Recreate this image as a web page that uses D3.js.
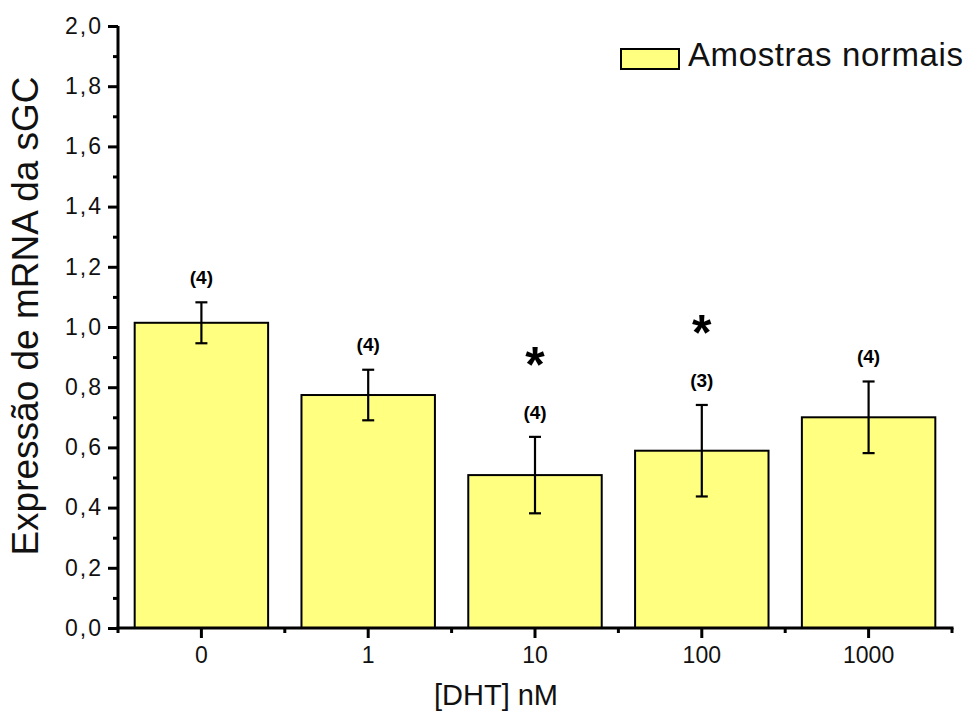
<!DOCTYPE html>
<html><head><meta charset="utf-8">
<script src="https://cdn.jsdelivr.net/npm/d3@7"></script>
<style>body{margin:0;background:#fff}svg{display:block}text{font-family:"Liberation Sans",Arial,sans-serif}</style>
</head><body><svg id="c" width="979" height="713"></svg>
<script>
const categories = ["0","1","10","100","1000"];
const means = [1.014, 0.774, 0.508, 0.589, 0.700];
const errors = [0.068, 0.084, 0.127, 0.152, 0.119];
const nLabels = ["(4)","(4)","(4)","(3)","(4)"];
const stars = ["", "", "*", "*", ""];
const yMajorTicks = [0,0.2,0.4,0.6,0.8,1.0,1.2,1.4,1.6,1.8,2.0];
const yMinorTicks = [0.1,0.3,0.5,0.7,0.9,1.1,1.3,1.5,1.7,1.9];
const seriesName = "Amostras normais";
const xTitle = "[DHT] nM";
const yTitle = "Expressão de mRNA da sGC";

const svg = d3.select("#c");
const pL = 118, pR = 952, pT = 26, pB = 628;
const x = d3.scaleBand().domain(categories).range([pL, pR]).paddingInner(0.2).paddingOuter(0.1);
const y = d3.scaleLinear().domain([0, 2]).range([pB, pT]);
const fill = "#ffff80";

// bars
svg.selectAll("rect.bar").data(categories).enter().append("rect")
  .attr("x", d => x(d)).attr("width", x.bandwidth())
  .attr("y", (d,i) => y(means[i])).attr("height", (d,i) => y(0) - y(means[i]))
  .attr("fill", fill).attr("stroke", "#000").attr("stroke-width", 2);

// error bars
const cx = d => x(d) + x.bandwidth()/2;
const eg = svg.append("g").attr("stroke", "#000").attr("stroke-width", 2.2);
categories.forEach((d,i) => {
  eg.append("line").attr("x1", cx(d)).attr("x2", cx(d)).attr("y1", y(means[i]+errors[i])).attr("y2", y(means[i]-errors[i]));
  [1,-1].forEach(s => eg.append("line").attr("x1", cx(d)-6).attr("x2", cx(d)+6)
    .attr("y1", y(means[i]+s*errors[i])).attr("y2", y(means[i]+s*errors[i])));
});

// n labels and stars
categories.forEach((d,i) => {
  const yt = y(means[i]+errors[i]);
  svg.append("text").attr("x", cx(d)).attr("y", yt - 25).attr("dy", "0.35em")
    .attr("text-anchor", "middle").attr("font-weight", "bold").attr("font-size", 19).text(nLabels[i]);
  if (stars[i]) svg.append("text").attr("x", cx(d)).attr("y", yt - 86).attr("dy", "0.62em")
    .attr("text-anchor", "middle").attr("font-weight", "bold").attr("font-size", 50).text(stars[i]);
});

// y axis
const yAxis = d3.axisLeft(y).tickValues(yMajorTicks).tickSize(10).tickPadding(5)
  .tickFormat(d => d3.format(".1f")(d).replace(".", ","));
const gy = svg.append("g").attr("transform", `translate(${pL},0)`).call(yAxis);
gy.select(".domain").attr("stroke-width", 3).attr("d", `M0,${pT}V${pB+1.5}`);
gy.selectAll(".tick line").attr("stroke-width", 3);
gy.selectAll(".tick text").attr("font-size", 23).attr("letter-spacing", 2).attr("fill", "#111");
const gym = svg.append("g").attr("transform", `translate(${pL},0)`)
  .call(d3.axisLeft(y).tickValues(yMinorTicks).tickSize(5).tickFormat(""));
gym.select(".domain").remove();
gym.selectAll(".tick line").attr("stroke-width", 3);

// x axis
const gx = svg.append("g").attr("transform", `translate(0,${pB})`)
  .call(d3.axisBottom(x).tickSize(10).tickPadding(9));
gx.select(".domain").attr("stroke-width", 3).attr("d", `M${pL-1.5},0H${pR+1.5}`);
gx.selectAll(".tick line").attr("stroke-width", 3);
gx.selectAll(".tick text").attr("font-size", 23).attr("fill", "#111");
const bounds = [x.range()[0]].concat(categories.map(d => x(d) + x.bandwidth() + x.step()*x.paddingInner()/2).slice(0,-1)).concat([x.range()[1]]);
const gxm = svg.append("g").attr("transform", `translate(0,${pB})`);
gxm.selectAll("line").data(bounds).enter().append("line")
  .attr("x1", d => d).attr("x2", d => d).attr("y1", 0).attr("y2", 5).attr("stroke", "#000").attr("stroke-width", 3);

// titles
svg.append("text").attr("x", 496).attr("y", 705).attr("text-anchor", "middle").attr("font-size", 29).attr("fill", "#111").text(xTitle);
svg.append("text").attr("transform", "translate(38,316) rotate(-90)").attr("text-anchor", "middle")
  .attr("font-size", 37).attr("fill", "#111").text(yTitle);

// legend
svg.append("rect").attr("x", 621).attr("y", 49).attr("width", 58).attr("height", 20)
  .attr("fill", fill).attr("stroke", "#000").attr("stroke-width", 2);
svg.append("text").attr("x", 688).attr("y", 66).attr("font-size", 33).attr("letter-spacing", 0.6).attr("fill", "#111").text(seriesName);
</script></body></html>
